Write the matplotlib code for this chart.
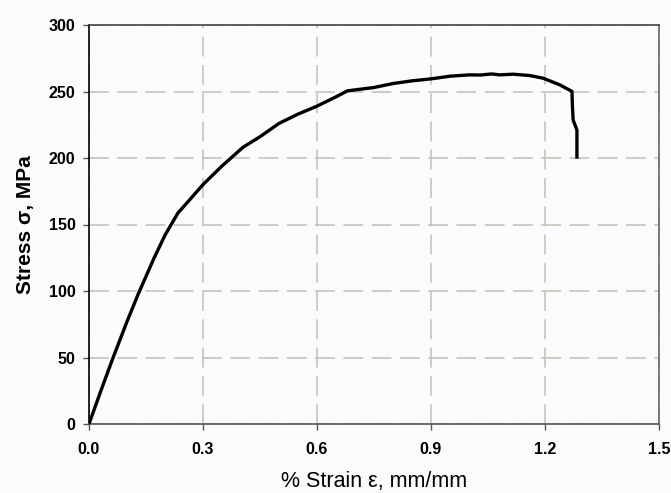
import matplotlib.pyplot as plt
import numpy as np

# stress-strain curve
strain = [0.0, 0.03, 0.063, 0.10, 0.13, 0.17, 0.20, 0.234, 0.26, 0.30, 0.35,
          0.405, 0.45, 0.50, 0.55, 0.60, 0.65, 0.68, 0.75, 0.80, 0.85, 0.90,
          0.95, 1.00, 1.03, 1.06, 1.08, 1.116, 1.16, 1.195, 1.239, 1.265, 1.271,
          1.272, 1.274, 1.284, 1.284]
stress = [0, 24, 49.6, 77, 98, 124, 142, 158.6, 167, 180, 194,
          208, 216, 226, 233, 239, 246, 250.5, 253, 256, 258, 259.5,
          261.5, 262.5, 262.4, 263.2, 262.5, 263, 262, 260, 255, 251, 250,
          240, 228.6, 221, 200.7]

xticks = [0.0, 0.3, 0.6, 0.9, 1.2, 1.5]
yticks = [0, 50, 100, 150, 200, 250, 300]

fig = plt.figure(figsize=(6.71, 4.93), dpi=100, facecolor="#fbfbfb")
ax = fig.add_axes([89 / 671, 69 / 493, 570 / 671, 399 / 493])
ax.set_facecolor("#fbfbfb")

ax.plot(strain, stress, color="black", lw=2.4, solid_joinstyle="round", zorder=3)

ax.set_xlim(0, 1.5)
ax.set_ylim(0, 300)
ax.set_xticks(xticks)
ax.set_yticks(yticks)
ax.set_xticklabels(["%.1f" % v for v in xticks], fontweight="bold", fontsize=11.5,
                   family="Liberation Sans")
ax.set_yticklabels([str(v) for v in yticks], fontweight="bold", fontsize=11.5,
                   family="Liberation Sans")
ax.tick_params(direction="out", length=4.3, width=1, color="#555555")
ax.tick_params(axis="y", pad=5.5)
ax.tick_params(axis="x", pad=9)

ax.grid(True, color="#c4bdb4", lw=1.1, linestyle=(0, (13, 5.5)))
ax.set_axisbelow(True)

for side in ["left", "bottom", "top", "right"]:
    ax.spines[side].set_linewidth(1.2)
ax.spines["left"].set_color("black")
ax.spines["bottom"].set_color("#555555")
ax.spines["top"].set_color("#444444")
ax.spines["right"].set_color("#666666")

ax.set_xlabel("% Strain ε, mm/mm", fontsize=15.5, family="Liberation Sans", labelpad=9.5)
ax.set_ylabel("Stress σ, MPa", fontsize=15, fontweight="bold", family="Liberation Sans",
              labelpad=10)

fig.savefig("out.png", dpi=100, facecolor=fig.get_facecolor())
